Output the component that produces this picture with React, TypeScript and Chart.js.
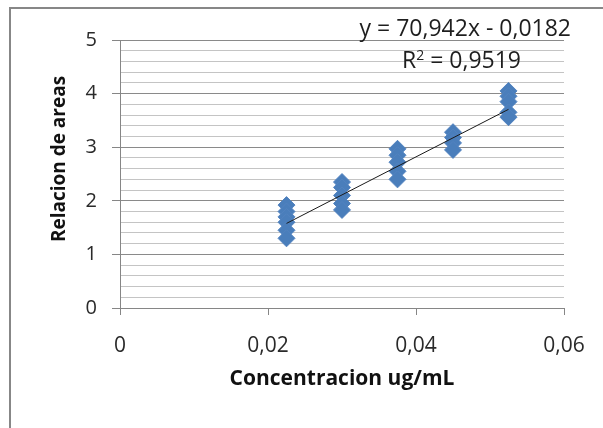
import React, { useEffect, useRef } from "react";
import { Chart, registerables } from "chart.js";

Chart.register(...registerables);

// Concentrations (x) of each replicate group
const concentraciones = [0.0225, 0.03, 0.0375, 0.045, 0.0525];
// Area ratios (y) read for each group
const relacionGrupo1 = [1.92, 1.8, 1.7, 1.6, 1.45, 1.3];
const relacionGrupo2 = [2.35, 2.25, 2.1, 1.95, 1.83];
const relacionGrupo3 = [2.97, 2.85, 2.72, 2.55, 2.4];
const relacionGrupo4 = [3.28, 3.18, 3.08, 2.95];
const relacionGrupo5 = [4.05, 3.95, 3.85, 3.65, 3.56];
const grupos = [relacionGrupo1, relacionGrupo2, relacionGrupo3, relacionGrupo4, relacionGrupo5];

// Linear trendline end points
const tendenciaX = [0.0225, 0.0525];
const tendenciaY = [1.578, 3.706];

const ecuacion = "y = 70,942x - 0,0182";
const r2Texto = " = 0,9519";

const xTicks = [0, 0.02, 0.04, 0.06];

const FONT = "'Open Sans', 'DejaVu Sans', sans-serif";

export default function App() {
  const ref = useRef<HTMLCanvasElement | null>(null);

  useEffect(() => {
    const canvas = ref.current;
    if (!canvas) return;

    const puntos: { x: number; y: number }[] = [];
    grupos.forEach((g, i) => g.forEach((v) => puntos.push({ x: concentraciones[i], y: v })));
    const tendencia = tendenciaX.map((x, i) => ({ x, y: tendenciaY[i] }));

    const isMajor = (v: number) => Math.abs(v - Math.round(v)) < 1e-6;

    const textPlugin = {
      id: "textos",
      afterDraw(chart: any) {
        const ctx = chart.ctx as CanvasRenderingContext2D;
        ctx.save();
        ctx.fillStyle = "#1e1e1e";
        ctx.font = `23px ${FONT}`;
        ctx.textBaseline = "alphabetic";
        ctx.textAlign = "right";
        ctx.fillText(ecuacion, 571, 36);
        ctx.textAlign = "left";
        let x = 402;
        ctx.fillText("R", x, 68);
        x += ctx.measureText("R").width;
        ctx.font = `14px ${FONT}`;
        ctx.fillText("2", x, 60);
        x += ctx.measureText("2").width;
        ctx.font = `23px ${FONT}`;
        ctx.fillText(r2Texto, x, 68);
        // y axis title
        ctx.translate(60, 159);
        ctx.rotate(-Math.PI / 2);
        ctx.font = `bold 19px ${FONT}`;
        ctx.fillStyle = "#111";
        ctx.textAlign = "center";
        ctx.textBaseline = "middle";
        ctx.fillText("Relacion de areas", 0, 0);
        ctx.restore();
      },
    };

    const chart = new Chart(canvas, {
      type: "scatter",
      data: {
        datasets: [
          {
            type: "line",
            data: tendencia,
            borderColor: "#1a1a1a",
            borderWidth: 1,
            pointRadius: 0,
            fill: false,
            order: 0,
          } as any,
          {
            data: puntos,
            pointStyle: "rectRot",
            pointRadius: 8.5,
            backgroundColor: "#4a7ebb",
            borderColor: "#5283c0",
            borderWidth: 1,
            order: 1,
          },
        ],
      },
      options: {
        responsive: false,
        animation: false,
        devicePixelRatio: 1,
        layout: { padding: { top: 40, right: 39, left: 0, bottom: 0 } },
        plugins: { legend: { display: false }, tooltip: { enabled: false } },
        scales: {
          x: {
            type: "linear",
            min: 0,
            max: 0.06,
            afterBuildTicks: (scale: any) => {
              scale.ticks = xTicks.map((v) => ({ value: v }));
            },
            afterFit: (scale: any) => {
              scale.height = 120;
            },
            ticks: {
              padding: 18,
              color: "#2a2a2a",
              font: { family: FONT, size: 21 },
              callback: (v: any) => (Number(v) === 0 ? "0" : Number(v).toFixed(2).replace(".", ",")),
            },
            grid: {
              drawOnChartArea: false,
              drawTicks: true,
              tickLength: 7,
              color: "#868686",
            },
            border: { color: "#868686", width: 1 },
            title: {
              display: true,
              text: "Concentracion ug/mL",
              color: "#111",
              font: { family: FONT, size: 21, weight: "bold" },
              padding: { top: 0, bottom: 36 },
            },
          },
          y: {
            min: 0,
            max: 5,
            afterFit: (scale: any) => {
              scale.width = 120;
            },
            ticks: {
              stepSize: 0.2,
              autoSkip: false,
              padding: 15,
              color: "#2a2a2a",
              font: { family: FONT, size: 20 },
              callback: (v: any) => (isMajor(Number(v)) ? String(Math.round(Number(v))) : ""),
            },
            grid: {
              tickLength: 8,
              color: (c: any) => (isMajor(c.tick.value) ? "#8a8a8a" : "#c4c4c4"),
              tickColor: (c: any) => (isMajor(c.tick.value) ? "#868686" : "rgba(0,0,0,0)"),
              lineWidth: 1,
            },
            border: { color: "#868686", width: 1 },
          },
        },
      },
      plugins: [textPlugin],
    });

    return () => chart.destroy();
  }, []);

  return (
    <div style={{ position: "fixed", left: 0, top: 0, width: 603, height: 428, overflow: "hidden", background: "#fff" }}>
      <div
        style={{
          position: "absolute",
          left: 9,
          top: 7,
          width: 700,
          height: 500,
          borderLeft: "2px solid #878787",
          borderTop: "2px solid #878787",
        }}
      />
      <canvas ref={ref} width={603} height={428} style={{ position: "absolute", left: 0, top: 0, width: 603, height: 428 }} />
    </div>
  );
}
